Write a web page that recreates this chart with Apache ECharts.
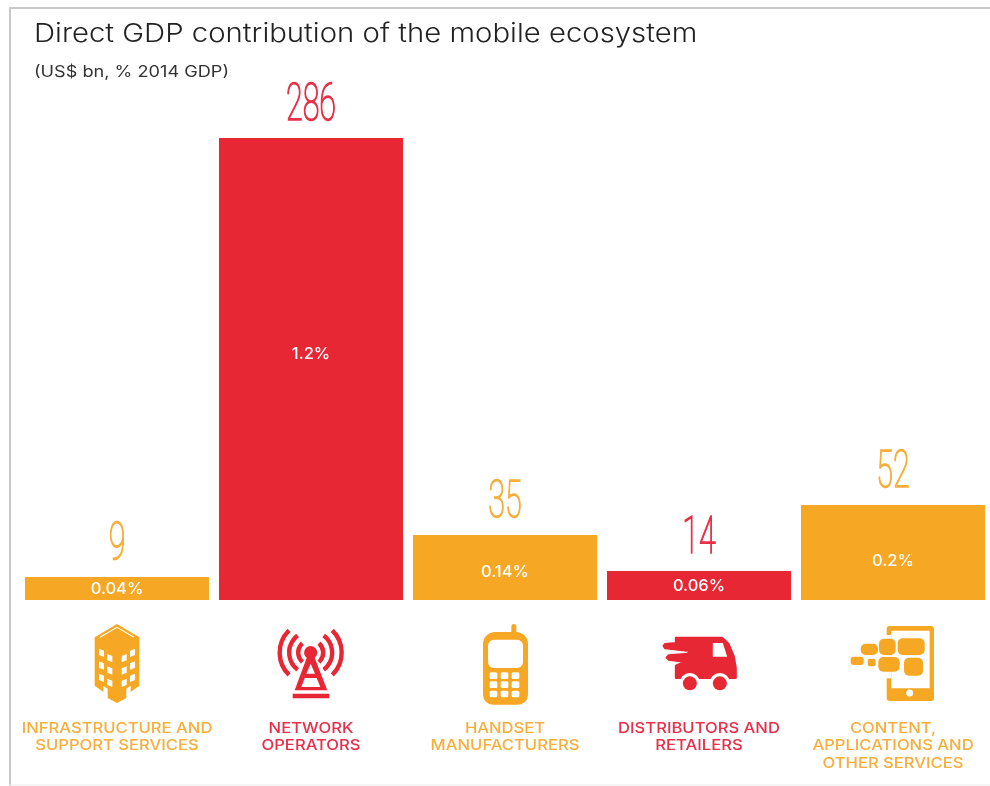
<!DOCTYPE html>
<html>
<head>
<meta charset="utf-8">
<style>html,body{margin:0;padding:0;background:#fff}#c{width:990px;height:786px}</style>
<script src="https://cdn.jsdelivr.net/npm/echarts@6/dist/echarts.min.js"></script>
</head>
<body>
<div id="c"></div>
<script>
const categories = ['INFRASTRUCTURE AND\nSUPPORT SERVICES','NETWORK\nOPERATORS','HANDSET\nMANUFACTURERS','DISTRIBUTORS AND\nRETAILERS','CONTENT,\nAPPLICATIONS AND\nOTHER SERVICES'];
// Printed values (US$ bn) and shares of 2014 GDP.
const gdpLabels = [9, 286, 35, 14, 52];
const gdpShareLabels = ['0.04%', '1.2%', '0.14%', '0.06%', '0.2%'];
// Bar lengths as drawn in the source: its short bars are longer than the printed values imply.
const drawnBars = [14.2, 286, 40.2, 18, 58.8];

const ORANGE = '#F6A723', RED = '#E72734';
const barColors = [ORANGE, RED, ORANGE, RED, ORANGE];
const labelColors = ['#F8AE3C', '#E8304A', '#F8AE3C', '#E8304A', '#F8AE3C'];
const shareNudge = [1, -15, 5, 1, 9];

const chart = echarts.init(document.getElementById('c'), null, {renderer: 'canvas'});

function mapper(ox, oy, cx) {
  const X = z => z / 3 + ox - cx, Y = z => z / 3 + oy - 600;
  return {X, Y,
    poly: (pts, fill, extra) => ({type:'polygon', shape:{points:pts.map(p=>[X(p[0]),Y(p[1])])}, style:Object.assign({fill}, extra||{})}),
    rect: (x0,y0,x1,y1,r,fill) => ({type:'rect', shape:{x:X(x0),y:Y(y0),width:(x1-x0)/3,height:(y1-y0)/3,r:r}, style:{fill}}),
    circ: (x,y,r,fill) => ({type:'circle', shape:{cx:X(x),cy:Y(y),r:r}, style:{fill}})
  };
}
function buildingIcon() {
  const W = '#fff', c = ORANGE, m = mapper(85, 618, 117), out = [];
  out.push(m.poly([[96,18],[163,58],[163,203],[137,222],[137,203],[124,212],[124,240],[96,255],[68,240],[68,212],[55,203],[55,222],[29,203],[29,58]], c));
  out.push({type:'polyline', shape:{points:[[m.X(45),m.Y(58)],[m.X(96),m.Y(28)],[m.X(147),m.Y(58)]]}, style:{stroke:W,lineWidth:1.2,fill:null}});
  const win = (x,y,dir) => m.poly(dir>0?[[x,y],[x+15,y+6],[x+15,y+25],[x,y+19]]:[[x,y+6],[x+15,y],[x+15,y+19],[x,y+25]], W);
  [92,130,167].forEach(y=>{out.push(win(42,y,1)); out.push(win(135,y,-1));});
  [108,145,182].forEach(y=>{out.push(win(67,y,1)); out.push(win(110,y,-1));});
  return out;
}
function towerIcon() {
  const c = RED, W = '#fff', m = mapper(270, 622, 311), out = [];
  const cx = m.X(122), cy = m.Y(92);
  [[12.5,0.85],[21.5,0.92],[31,0.8]].forEach(a=>{
    const [r,ang]=a;
    out.push({type:'arc',shape:{cx,cy,r,startAngle:-ang,endAngle:ang},style:{stroke:c,lineWidth:4.4,fill:null,lineCap:'butt'}});
    out.push({type:'arc',shape:{cx,cy,r,startAngle:Math.PI-ang,endAngle:Math.PI+ang},style:{stroke:c,lineWidth:4.4,fill:null,lineCap:'butt'}});
  });
  out.push(m.poly([[113,100],[131,100],[172,205],[74,205]], c));
  out.push(m.poly([[122,125],[135,155],[109,155]], W));
  out.push(m.poly([[104,168],[140,168],[151,195],[94,195]], W));
  out.push(m.circ(122,92,6.6,c));
  out.push(m.rect(68,215,178,229,0,c));
  return out;
}
function phoneIcon() {
  const c = ORANGE, W = '#fff', m = mapper(475, 618, 506), out = [];
  out.push(m.rect(112,18,127,60,2.5,c));
  out.push(m.rect(27,42,162,260,[12,12,10,10],c));
  out.push(m.rect(42,65,147,150,6,W));
  [47,80,113].forEach(x=>[163,190,218].forEach(y=>out.push(m.rect(x,y,x+23,y+20,1.5,W))));
  return out;
}
function truckIcon() {
  const c = RED, W = '#fff', m = mapper(655, 628, 699.5), out = [];
  out.push(m.poly([[64,29],[203,29],[222,47],[238,85],[244,120],[244,150],[64,150],[64,113],[90,101],[42,95],[36,89],[42,82],[100,77],[104,69],[32,61],[27,54],[32,48],[64,45]], c, {stroke:c,lineWidth:2,lineJoin:'round'}));
  out.push(m.poly([[175,45],[205,45],[218,86],[175,86]], W));
  [106,196].forEach(x=>{ out.push(m.circ(x,166,10.3,W)); out.push(m.circ(x,166,7,c)); });
  return out;
}
function contentIcon() {
  const c = ORANGE, W = '#fff', m = mapper(845, 620, 894), out = [];
  out.push(m.rect(128,18,270,243,3,c));
  out.push(m.rect(142,32,257,205,0,W));
  out.push(m.rect(120,45,142,175,0,W));
  out.push(m.circ(197,219,3.5,W));
  [[161,55,242,105,5],[105,56,155,105,5],[50,71,102,105,5],[20,110,59,135,3],[71,116,95,139,2],[103,111,167,155,5],[180,113,237,167,5]]
    .forEach(b=>out.push(m.rect(b[0],b[1],b[2],b[3],b[4],c)));
  return out;
}
const iconBuilders = [buildingIcon, towerIcon, phoneIcon, truckIcon, contentIcon];

chart.setOption({
  animation: false,
  backgroundColor: '#fff',
  graphic: [
    {type:'rect', silent:true, shape:{x:9,y:7,width:981,height:2}, style:{fill:'#c9c9c9'}},
    {type:'rect', silent:true, shape:{x:9,y:7,width:2,height:779}, style:{fill:'#c9c9c9'}},
    {type:'rect', silent:true, shape:{x:9,y:784.5,width:981,height:1}, style:{fill:'#ececec'}},
    {type:'text', silent:true, x:34, y:34, scaleX:1.127, style:{text:'Direct GDP contribution of the mobile ecosystem', fill:'#222', verticalAlign:'middle', font:'300 26px Inter'}},
    {type:'text', silent:true, x:34, y:72, scaleX:1.17, style:{text:'(US$ bn, % 2014 GDP)', fill:'#333', verticalAlign:'middle', font:'400 15.5px Inter'}}
  ],
  grid: {left:20, top:138, width:972, height:462, containLabel:false},
  xAxis: {
    type:'category', data:categories,
    axisLine:{show:false}, axisTick:{show:false}, splitLine:{show:false},
    axisLabel:{show:false}
  },
  yAxis: {type:'value', min:0, max:286, show:false},
  series: [
    {
      type:'bar', barWidth:184, silent:true,
      data: drawnBars.map((v,i)=>({value:v, itemStyle:{color:barColors[i]},
        label:{show:true, position:'inside', offset:[0,shareNudge[i]], formatter:gdpShareLabels[i],
          color:'#fff', fontFamily:'Inter', fontWeight:500, fontSize:16.5}}))
    },
    {
      type:'custom', silent:true, clip:false,
      data: drawnBars.map((v,i)=>[i,v]),
      encode:{x:0,y:1},
      renderItem:(params, api)=>{
        const i = api.value(0);
        const top = api.coord([i, api.value(1)]);
        return {type:'text', x:top[0], y:top[1]-4.5, scaleX:0.58, scaleY:1,
          style:{text:String(gdpLabels[i]), fill:labelColors[i], stroke:labelColors[i], lineWidth:1.5, align:'center', verticalAlign:'bottom',
            font:'100 52.6px Roboto'}};
      }
    },
    {
      type:'custom', silent:true, clip:false,
      data: drawnBars.map((v,i)=>[i,0]),
      encode:{x:0,y:1},
      renderItem:(params, api)=>{
        const i = api.value(0);
        const o = api.coord([i,0]);
        return {type:'group', x:o[0], y:o[1], children:iconBuilders[i]().concat([
          {type:'text', x:0, y:119.5, scaleX:1.145,
           style:{text:categories[i], fill:labelColors[i], align:'center', verticalAlign:'top', lineHeight:17.6, font:'500 14.5px Inter'}}
        ])};
      }
    }
  ]
});
</script>
</body>
</html>
